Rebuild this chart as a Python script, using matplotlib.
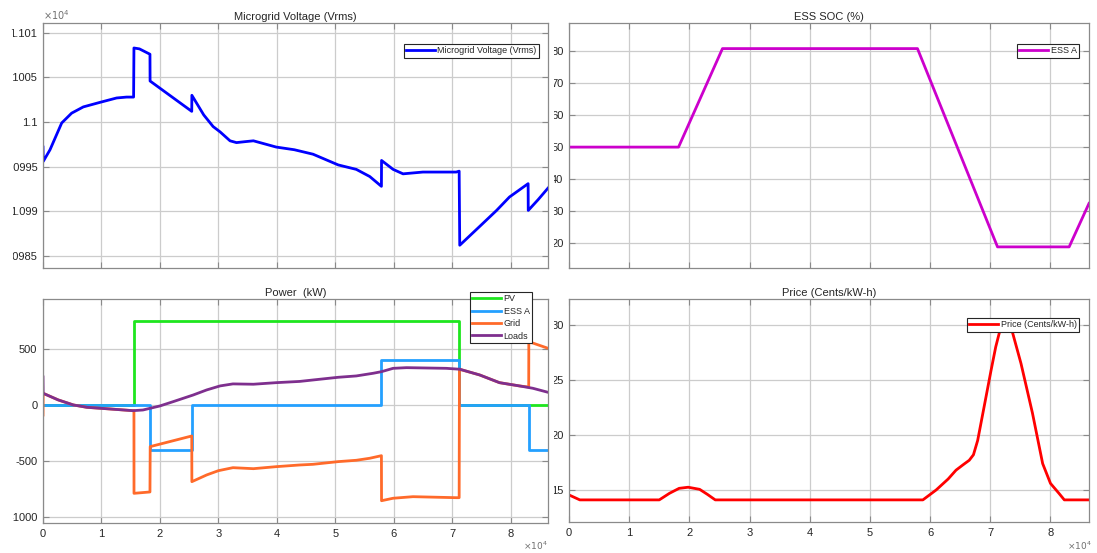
import matplotlib
matplotlib.use("Agg")
import matplotlib.pyplot as plt
from matplotlib.patches import Rectangle
from matplotlib.ticker import FixedLocator, FixedFormatter

# ---------------- data (time in seconds) ----------------
t_volt = [0, 50, 1200, 3200, 4900, 6900, 9700, 12600, 14300, 15500, 15560, 16500, 18300,
          18320, 25450, 25470, 27500, 29100, 30300, 32000, 33100, 34500, 36000, 39900,
          43000, 46200, 50500, 53600, 55900, 57900, 57920, 59900, 61600, 65000, 70700,
          71200, 71300, 74700, 77600, 79800, 83000, 83020, 84700, 86400]
voltage = [1.09972, 1.09956, 1.09969, 1.09999, 1.10010, 1.10017, 1.10022, 1.10027, 1.10028,
           1.10028, 1.10083, 1.10082, 1.10076, 1.10046, 1.10012, 1.10030, 1.10008, 1.09995,
           1.09989, 1.09979, 1.09977, 1.09978, 1.09979, 1.09972, 1.09969, 1.09964, 1.09952,
           1.09947, 1.09939, 1.09928, 1.09957, 1.09947, 1.09942, 1.09944, 1.09944, 1.09945,
           1.09862, 1.09883, 1.09901, 1.09916, 1.09931, 1.09901, 1.09913, 1.09926]

t_soc = [0, 18200, 25500, 57900, 71200, 83100, 86400]
soc = [50, 50, 80.8, 80.8, 18.8, 18.8, 32.4]

t_pv = [0, 15560, 15560, 71100, 71100, 86400]
pv = [0, 0, 750, 750, 0, 0]

t_ess = [0, 18340, 18340, 25470, 25470, 57900, 57900, 71200, 71200, 83100, 83100, 86400]
ess = [0, 0, -400, -400, 0, 0, 400, 400, 0, 0, -400, -400]

t_grid = [0, 30, 2600, 5200, 7500, 11500, 15400, 15560, 15570, 18300, 18340, 25450, 25470,
          28000, 30000, 32500, 36000, 39900, 43900, 46200, 50500, 53600, 55900, 57900,
          57920, 59900, 63300, 70700, 71200, 71250, 74700, 78100, 81500, 83100, 83120, 86400]
grid = [-90, 104, 45, 0, -21, -36, -51, -50, -789, -777, -372, -277, -685, -625, -587, -560,
        -569, -551, -536, -530, -506, -494, -476, -453, -855, -833, -819, -828, -828, 319,
        268, 199, 170, 160, 565, 506]

t_loads = [0, 30, 2600, 5200, 7500, 11500, 15400, 17100, 20000, 22300, 25700, 28000, 30300,
           32500, 36000, 39900, 43900, 46200, 50500, 53600, 56500, 57900, 59900, 62200,
           69000, 71300, 74700, 78100, 81500, 83800, 86400]
loads = [250, 104, 45, 0, -21, -36, -51, -45, -9, 30, 89, 134, 170, 188, 185, 199, 210, 223,
         247, 259, 283, 297, 327, 333, 327, 319, 268, 199, 170, 149, 113]

t_price = [0, 1800, 15000, 16700, 18300, 19800, 21700, 23000, 24300, 58800, 61000, 63000,
           64300, 65500, 66500, 67200, 67900, 68600, 69300, 70100, 70900, 71600, 72600,
           73600, 75100, 77000, 78700, 80000, 81400, 82300, 86400]
price = [14.55, 14.1, 14.1, 14.7, 15.15, 15.25, 15.06, 14.6, 14.1, 14.1, 15.0, 16.0, 16.8,
         17.3, 17.7, 18.2, 19.5, 21.5, 23.5, 25.8, 28.0, 29.5, 30.4, 29.5, 26.5, 22.0, 17.4,
         15.6, 14.7, 14.1, 14.1]

x_ticks = [0, 10000, 20000, 30000, 40000, 50000, 60000, 70000, 80000]
x_labels = ["0", "1", "2", "3", "4", "5", "6", "7", "8"]
v_ticks = [1.0985, 1.099, 1.0995, 1.1, 1.1005, 1.101]
v_labels = ["1.0985", "1.099", "1.0995", "1.1", "1.1005", "1.101"]
soc_ticks = [20, 30, 40, 50, 60, 70, 80]
p_ticks = [-1000, -500, 0, 500]
pr_ticks = [15, 20, 25, 30]

# ---------------- styling ----------------
plt.rcParams['font.family'] = ['Liberation Sans', 'DejaVu Sans']
W, H = 1097, 553
fig = plt.figure(figsize=(W / 100, H / 100), dpi=100)
fig.patch.set_facecolor('white')

TXT = '#262626'
SPINE = '#8a8a8a'
GRIDC = '#cccccc'


def make_ax(l, r, t, b):
    ax = fig.add_axes([l / W, 1 - b / H, (r - l) / W, (b - t) / H])
    for s in ax.spines.values():
        s.set_color(SPINE)
        s.set_linewidth(0.9)
    ax.tick_params(direction='in', length=4, width=0.8, color=SPINE, labelcolor=TXT,
                   labelsize=8, top=True, right=True, pad=4)
    ax.grid(True, color=GRIDC, linewidth=0.9)
    ax.set_axisbelow(True)
    ax.set_xlim(0, 86400)
    ax.xaxis.set_major_locator(FixedLocator(x_ticks))
    ax.xaxis.set_major_formatter(FixedFormatter(x_labels))
    return ax


def mlegend(ax, x_right, y_top, **kw):
    leg = ax.legend(loc='upper right', bbox_to_anchor=(x_right / W, 1 - y_top / H),
                    bbox_transform=fig.transFigure, fontsize=6.5, fancybox=False,
                    framealpha=1, edgecolor='#262626', borderpad=0.25, borderaxespad=0,
                    handlelength=3.2, handletextpad=0.3, **kw)
    leg.get_frame().set_linewidth(0.8)
    for txt in leg.get_texts():
        txt.set_color(TXT)
    leg.set_zorder(20)
    return leg


# Top-left: voltage
ax1 = make_ax(43, 548, 23, 268)
ax1.plot(t_volt, voltage, color='#0000ff', lw=2.0, label='Microgrid Voltage (Vrms)',
         solid_joinstyle='round')
ax1.set_ylim(1.098365, 1.10111)
ax1.yaxis.set_major_locator(FixedLocator(v_ticks))
ax1.yaxis.set_major_formatter(FixedFormatter(v_labels))
ax1.tick_params(labelbottom=False)
ax1.set_title('Microgrid Voltage (Vrms)', fontsize=8, color=TXT, pad=2)
ax1.text(0.0, 1.006, r'$\times10^{4}$', transform=ax1.transAxes, fontsize=7,
         color='#707070', ha='left', va='bottom')
mlegend(ax1, 539, 44, labelspacing=0.2)

# Top-right: SOC
ax2 = make_ax(569, 1089, 23, 268)
ax2.plot(t_soc, soc, color='#cc00cc', lw=2.0, label='ESS A', solid_joinstyle='round')
ax2.set_ylim(12.2, 88.8)
ax2.yaxis.set_major_locator(FixedLocator(soc_ticks))
ax2.yaxis.set_major_formatter(FixedFormatter([str(v) for v in soc_ticks]))
ax2.tick_params(labelbottom=False)
ax2.set_title('ESS SOC (%)', fontsize=8, color=TXT, pad=2)
mlegend(ax2, 1079, 44, labelspacing=0.2)

# Bottom-left: power
ax3 = make_ax(43, 548, 299, 523)
ax3.plot(t_pv, pv, color='#1ee61e', lw=2.0, label='PV')
ax3.plot(t_ess, ess, color='#24a0ff', lw=2.0, label='ESS A')
ax3.plot(t_grid, grid, color='#ff6a2a', lw=2.0, label='Grid', solid_joinstyle='round')
ax3.plot(t_loads, loads, color='#7e2f8e', lw=2.0, label='Loads', solid_joinstyle='round')
ax3.set_ylim(-1054, 946)
ax3.yaxis.set_major_locator(FixedLocator(p_ticks))
ax3.yaxis.set_major_formatter(FixedFormatter(["-1000", "-500", "0", "500"]))
ax3.set_title('Power  (kW)', fontsize=8, color=TXT, pad=2)
mlegend(ax3, 532, 292, labelspacing=0.38)
fig.text(548 / W, 0.5 / H, r'$\times10^{4}$', fontsize=6.5, color='#707070',
         ha='right', va='bottom')

# Bottom-right: price
ax4 = make_ax(569, 1089, 299, 522)
ax4.plot(t_price, price, color='#ff0000', lw=2.0, label='Price (Cents/kW-h)',
         solid_joinstyle='round')
ax4.set_ylim(12.09, 32.36)
ax4.yaxis.set_major_locator(FixedLocator(pr_ticks))
ax4.yaxis.set_major_formatter(FixedFormatter([str(v) for v in pr_ticks]))
ax4.set_title('Price (Cents/kW-h)', fontsize=8, color=TXT, pad=2)
mlegend(ax4, 1079, 318, labelspacing=0.2)
fig.text(1092 / W, 0.5 / H, r'$\times10^{4}$', fontsize=6.5, color='#707070',
         ha='right', va='bottom')

# cropped edges of the original composite figure
fig.add_artist(Rectangle((0, 30 / H), 12.5 / W, 1 - 60 / H, transform=fig.transFigure,
                         facecolor='white', edgecolor='none', zorder=30))
fig.add_artist(Rectangle((549.5 / W, 30 / H), 4.2 / W, 1 - 60 / H, transform=fig.transFigure,
                         facecolor='white', edgecolor='none', zorder=30))

fig.savefig('out.png', dpi=100, facecolor='white')
